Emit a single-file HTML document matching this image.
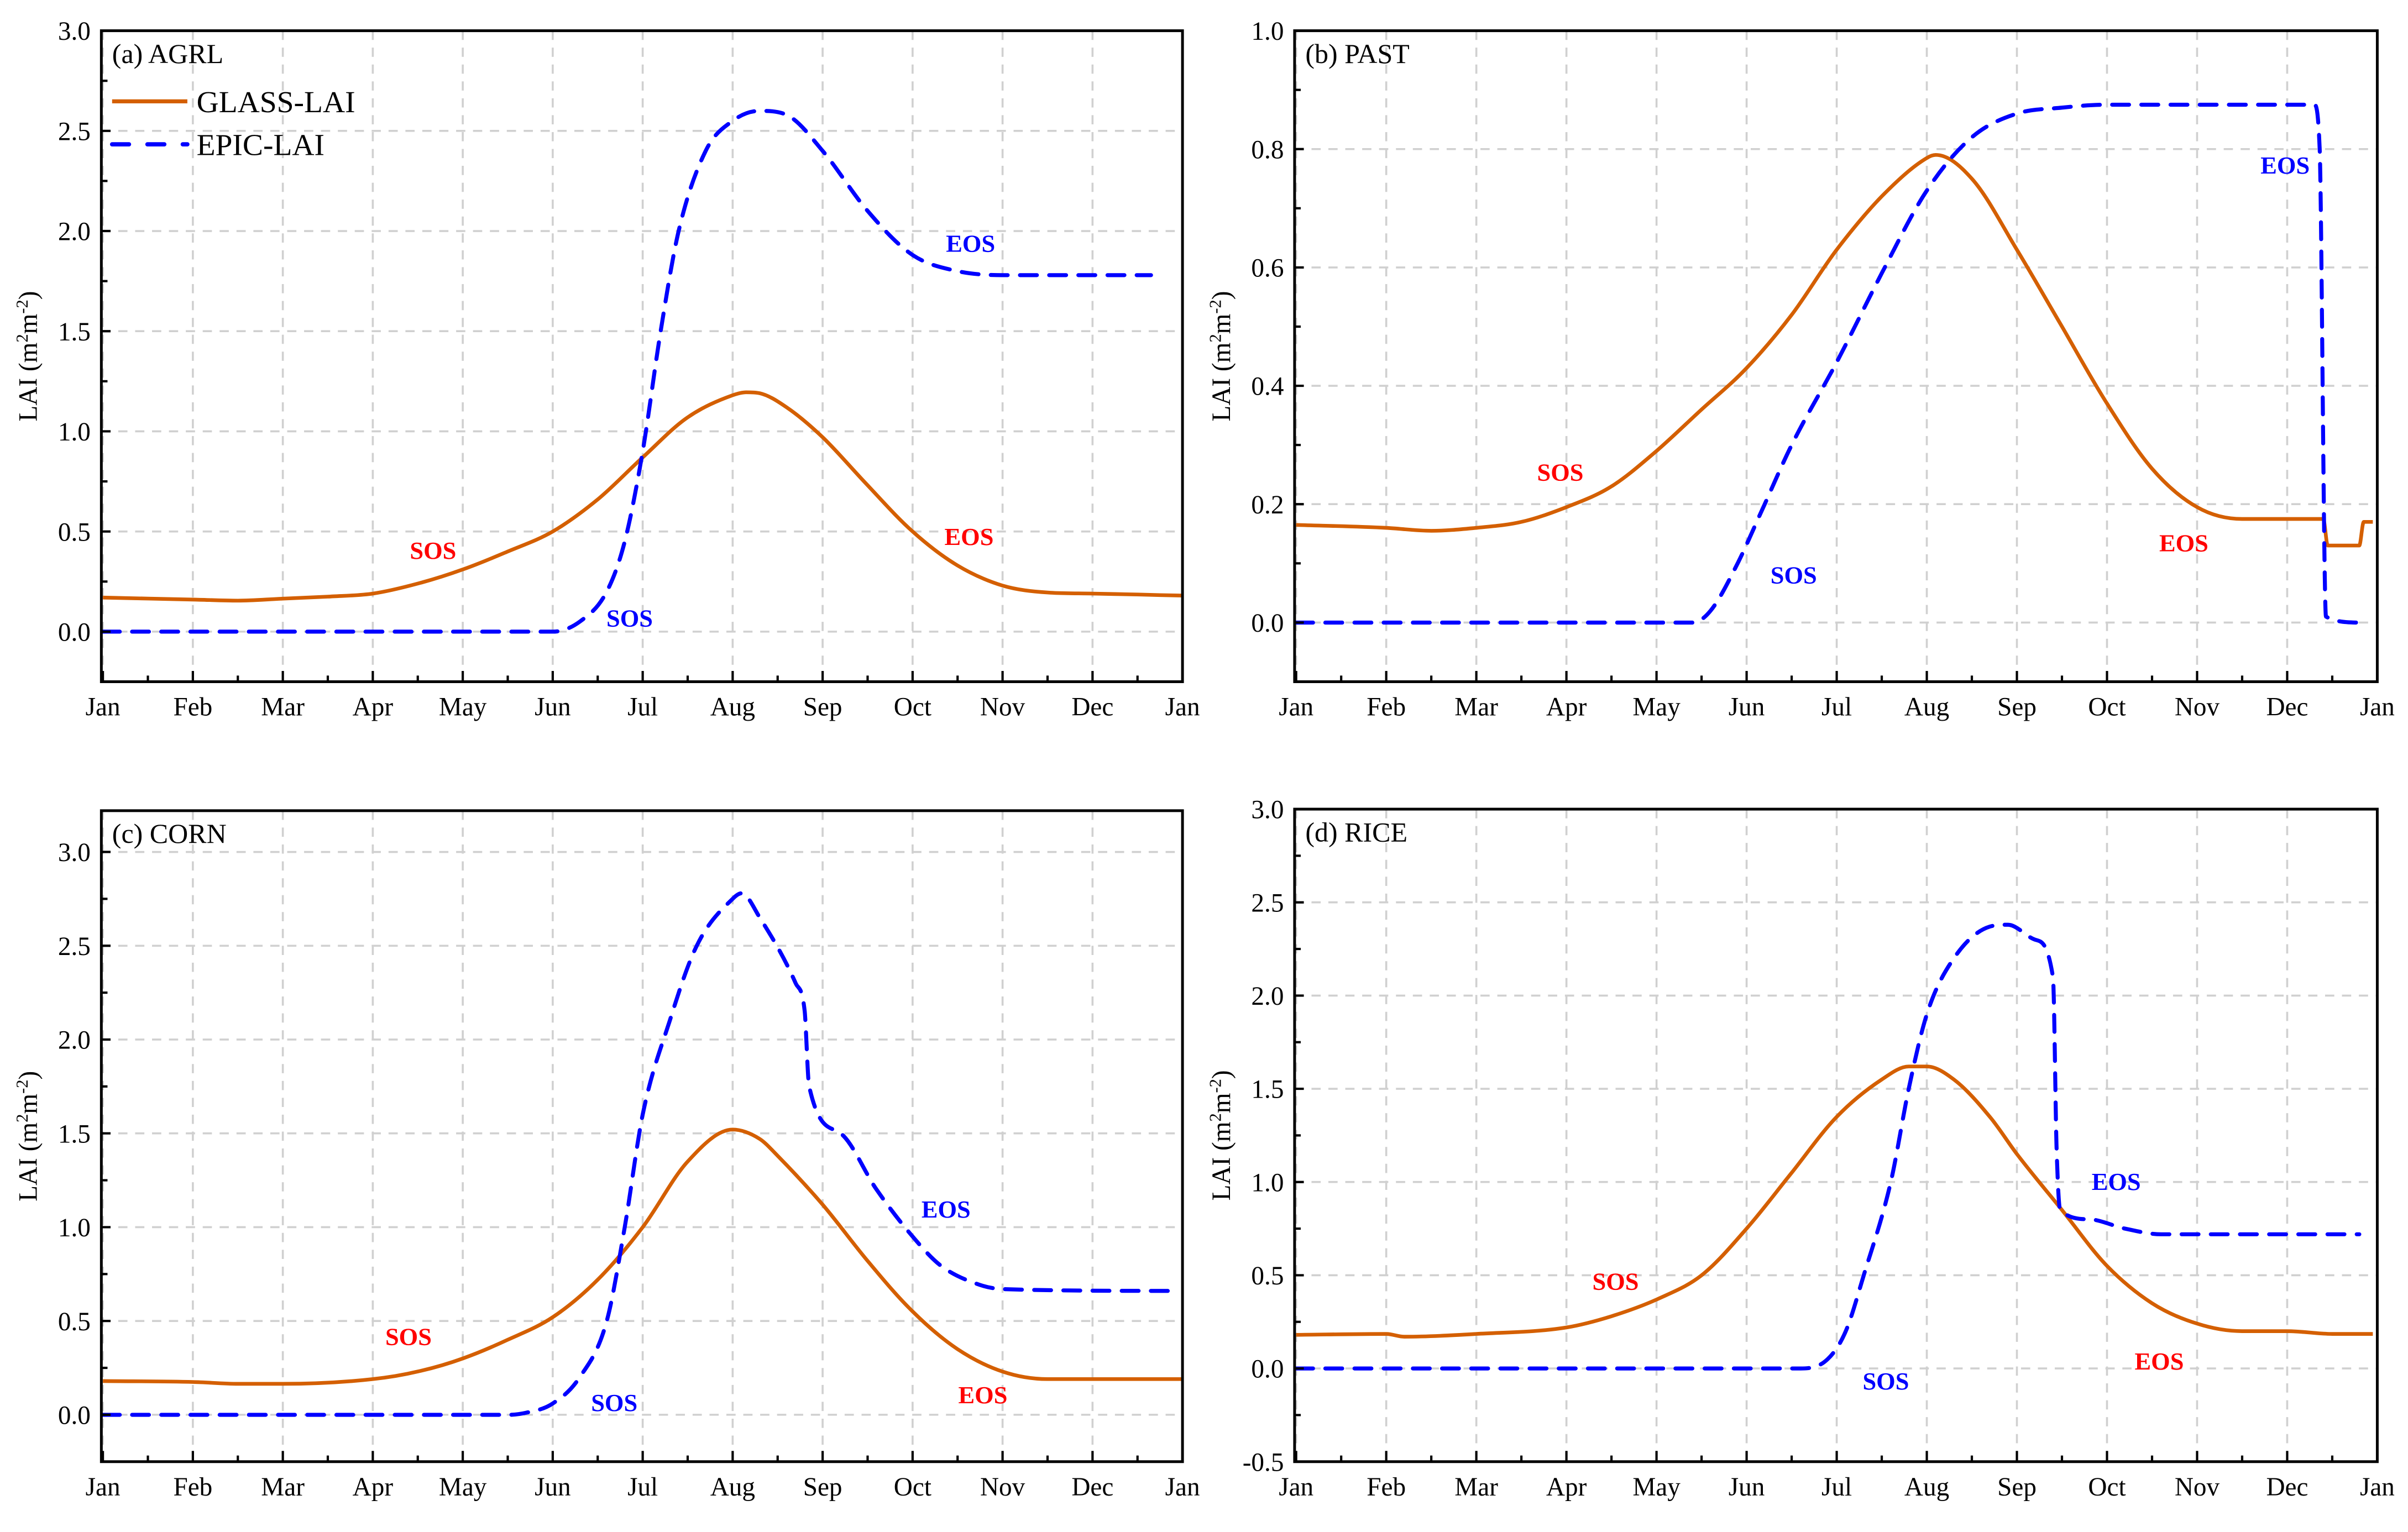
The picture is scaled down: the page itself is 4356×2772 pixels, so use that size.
<!DOCTYPE html>
<html><head><meta charset="utf-8"><style>
html,body{margin:0;padding:0;background:#fff}
svg{display:block}
svg text{font-family:"Liberation Serif","Times New Roman",serif}
</style></head><body>
<svg id="chart" width="4356" height="2772" viewBox="0 0 1568 997.8" font-family="Liberation Serif, serif" xmlns="http://www.w3.org/2000/svg"></svg>
<script>
const months = ["Jan","Feb","Mar","Apr","May","Jun","Jul","Aug","Sep","Oct","Nov","Dec","Jan"];
// Panel a AGRL
const aGlassX = [0,1,1.5,2,2.5,3,3.5,4,4.5,5,5.5,6,6.5,7,7.15,7.3,7.6,8,8.5,9,9.5,10,10.5,11,11.5,12];
const aGlassY = [0.17,0.16,0.155,0.165,0.175,0.19,0.24,0.31,0.4,0.5,0.66,0.87,1.07,1.18,1.195,1.19,1.12,0.97,0.73,0.5,0.33,0.23,0.195,0.19,0.185,0.18];
const aEpicX = [0,5,5.3,5.6,5.8,6,6.2,6.4,6.7,7,7.3,7.6,8,8.5,9,9.5,10,11.65];
const aEpicY = [0,0,0.05,0.2,0.45,0.9,1.5,2.0,2.4,2.55,2.6,2.58,2.4,2.1,1.88,1.8,1.78,1.78];
// Panel b PAST
const bGlassX = [0,1,1.5,2,2.5,3,3.5,4,4.5,5,5.5,6,6.5,7,7.1,7.5,8,8.5,9,9.5,10,10.5,11,11.4,11.45,11.8,11.85,11.95];
const bGlassY = [0.165,0.16,0.155,0.16,0.17,0.195,0.23,0.29,0.36,0.43,0.52,0.63,0.72,0.785,0.79,0.75,0.63,0.5,0.37,0.26,0.195,0.175,0.175,0.175,0.13,0.13,0.17,0.17];
const bEpicX = [0,4.4,4.6,4.9,5.2,5.5,6,6.5,7,7.5,8,8.5,9,11.3,11.36,11.43,11.8];
const bEpicY = [0,0,0.02,0.1,0.2,0.3,0.44,0.59,0.73,0.82,0.86,0.87,0.875,0.875,0.8,0.01,0];
// Panel c CORN
const cGlassX = [0,1,1.5,2,3,3.5,4,4.5,5,5.5,6,6.5,7,7.3,7.5,8,8.5,9,9.5,10,10.5,11,12];
const cGlassY = [0.18,0.175,0.165,0.165,0.19,0.23,0.3,0.4,0.52,0.72,1.0,1.35,1.52,1.47,1.38,1.12,0.82,0.55,0.35,0.23,0.19,0.19,0.19];
const cEpicX = [0,4.5,4.7,5,5.3,5.6,5.8,6,6.3,6.6,7,7.1,7.3,7.7,7.8,7.85,8.2,8.6,9,9.3,9.7,10,11.95];
const cEpicY = [0,0,0.01,0.06,0.2,0.5,1.0,1.6,2.1,2.5,2.75,2.78,2.65,2.3,2.15,1.75,1.5,1.2,0.95,0.8,0.7,0.67,0.66];
// Panel d RICE
const dGlassX = [0,1,1.2,2,3,3.5,4,4.5,5,5.5,6,6.5,6.8,7,7.3,7.7,8,8.5,9,9.5,10,10.5,11,11.5,11.95];
const dGlassY = [0.18,0.185,0.17,0.185,0.22,0.28,0.37,0.5,0.75,1.05,1.35,1.55,1.62,1.62,1.55,1.35,1.15,0.85,0.55,0.35,0.24,0.2,0.2,0.185,0.185];
const dEpicX = [0,5.6,5.9,6.1,6.3,6.6,6.8,7,7.3,7.7,7.9,8.2,8.4,8.44,8.48,8.8,9.2,9.6,11.8];
const dEpicY = [0,0,0.05,0.2,0.5,1.0,1.5,1.9,2.2,2.37,2.38,2.3,2.1,1.2,0.85,0.8,0.75,0.72,0.72];

const NS="http://www.w3.org/2000/svg";
const svg=document.getElementById('chart');
const FF='Liberation Serif, Times New Roman, serif';
function mk(tag,attrs,parent){const e=document.createElementNS(NS,tag);for(const k in attrs)e.setAttribute(k,attrs[k]);if(tag==='text')e.setAttribute('font-family',FF);(parent||svg).appendChild(e);return e;}

function smoothPath(P){
 const n=P.length; if(n<2) return '';
 const d=[],m=new Array(n);
 for(let i=0;i<n-1;i++){const dx=P[i+1][0]-P[i][0];d.push(dx===0?0:(P[i+1][1]-P[i][1])/dx);}
 m[0]=d[0];m[n-1]=d[n-2];
 for(let i=1;i<n-1;i++){m[i]=(d[i-1]*d[i]<=0)?0:(d[i-1]+d[i])/2;}
 for(let i=0;i<n-1;i++){
  if(d[i]===0){m[i]=0;m[i+1]=0;continue;}
  const a=m[i]/d[i],b=m[i+1]/d[i],s=a*a+b*b;
  if(s>9){const t=3/Math.sqrt(s);m[i]=t*a*d[i];m[i+1]=t*b*d[i];}
 }
 let s='M'+P[0][0].toFixed(1)+','+P[0][1].toFixed(1);
 for(let i=0;i<n-1;i++){
  const h=(P[i+1][0]-P[i][0])/3;
  s+='C'+(P[i][0]+h).toFixed(1)+','+(P[i][1]+m[i]*h).toFixed(1)+' '+(P[i+1][0]-h).toFixed(1)+','+(P[i+1][1]-m[i+1]*h).toFixed(1)+' '+P[i+1][0].toFixed(1)+','+P[i+1][1].toFixed(1);
 }
 return s;
}

const panels=[
 {id:'a',title:'(a) AGRL',L:66,R:770,T:20,B:444,ymin:-0.25,ymax:3.0,ticks:[0,0.5,1,1.5,2,2.5,3],dec:1,
  gx:aGlassX,gy:aGlassY,ex:aEpicX,ey:aEpicY,
  lab:[['SOS',282,358,'#f00'],['SOS',410,402,'#00f'],['EOS',632,158,'#00f'],['EOS',631,349,'#f00']]},
 {id:'b',title:'(b) PAST',L:843,R:1548,T:20,B:444,ymin:-0.1,ymax:1.0,ticks:[0,0.2,0.4,0.6,0.8,1.0],dec:1,
  gx:bGlassX,gy:bGlassY,ex:bEpicX,ey:bEpicY,
  lab:[['SOS',1016,307,'#f00'],['SOS',1168,374,'#00f'],['EOS',1488,107,'#00f'],['EOS',1422,353,'#f00']]},
 {id:'c',title:'(c) CORN',L:66,R:770,T:528,B:952,ymin:-0.25,ymax:3.22,ticks:[0,0.5,1,1.5,2,2.5,3],dec:1,
  gx:cGlassX,gy:cGlassY,ex:cEpicX,ey:cEpicY,
  lab:[['SOS',266,870,'#f00'],['SOS',400,913,'#00f'],['EOS',616,787,'#00f'],['EOS',640,908,'#f00']]},
 {id:'d',title:'(d) RICE',L:843,R:1548,T:527,B:952,ymin:-0.5,ymax:3.0,ticks:[-0.5,0,0.5,1,1.5,2,2.5,3],dec:1,
  gx:dGlassX,gy:dGlassY,ex:dEpicX,ey:dEpicY,
  lab:[['SOS',1052,834,'#f00'],['SOS',1228,899,'#00f'],['EOS',1378,769,'#00f'],['EOS',1406,886,'#f00']]}
];

panels.forEach(p=>{
 const g=mk('g',{});
 
 
 const x0=p.L+1, x1=p.R;
 const xs=m=>x0+(x1-x0)*m/12;
 const ys=v=>p.B-(v-p.ymin)/(p.ymax-p.ymin)*(p.B-p.T);
 for(let i=0;i<=12;i++){const l=mk('line',{x1:xs(i),x2:xs(i),y1:p.T,y2:p.B,stroke:'#d0d0d0','stroke-width':1.3,'stroke-dasharray':'6,5'},g);
  }
 p.ticks.forEach(t=>{const l=mk('line',{x1:p.L,x2:p.R,y1:ys(t),y2:ys(t),stroke:'#d0d0d0','stroke-width':1.3,'stroke-dasharray':'6,5'},g);
  });
 const pts=(X,Y)=>X.map((x,i)=>[xs(x),ys(Y[i])]);
 const gl=mk('path',{d:smoothPath(pts(p.gx,p.gy)),fill:'none',stroke:'#d45f00','stroke-width':2.4,'stroke-linejoin':'round'},g);
 
 const ep=mk('path',{d:smoothPath(pts(p.ex,p.ey)),fill:'none',stroke:'#0000ff','stroke-width':2.6,'stroke-dasharray':'11,8','stroke-linecap':'round'},g);
 
 const fr=mk('rect',{x:p.L,y:p.T,width:p.R-p.L,height:p.B-p.T,fill:'none',stroke:'#000','stroke-width':1.8},g);
 
 for(let i=0;i<=12;i++){
  mk('line',{x1:xs(i),x2:xs(i),y1:p.B,y2:p.B-7,stroke:'#000','stroke-width':1.5},g);
  if(i<12) mk('line',{x1:xs(i+0.5),x2:xs(i+0.5),y1:p.B,y2:p.B-4,stroke:'#000','stroke-width':1.5},g);
  const t=mk('text',{x:xs(i),y:p.B+22,'font-size':17,'text-anchor':'middle'},g);t.textContent=months[i];
  
 }
 p.ticks.forEach((v,i)=>{
  mk('line',{x1:p.L,x2:p.L+6,y1:ys(v),y2:ys(v),stroke:'#000','stroke-width':1.5},g);
  if(i<p.ticks.length-1){const mv=(v+p.ticks[i+1])/2;mk('line',{x1:p.L,x2:p.L+4,y1:ys(mv),y2:ys(mv),stroke:'#000','stroke-width':1.5},g);}
  const t=mk('text',{x:p.L-7,y:ys(v)+6,'font-size':17,'text-anchor':'end'},g);t.textContent=v.toFixed(p.dec);
  
 });
 const cy=(p.T+p.B)/2, tx=p.L-42;
 const yt=mk('text',{x:tx,y:cy,'font-size':17,'text-anchor':'middle',transform:`rotate(-90 ${tx} ${cy})`},g);
 yt.innerHTML='LAI (m<tspan dy="-6" font-size="11">2</tspan><tspan dy="6">m</tspan><tspan dy="-6" font-size="11">-2</tspan><tspan dy="6">)</tspan>';
 
 const tt=mk('text',{x:p.L+7,y:p.T+21,'font-size':18},g);tt.textContent=p.title;
 
 p.lab.forEach(a=>{const t=mk('text',{x:a[1],y:a[2]+6,'font-size':16,'font-weight':'bold',fill:a[3],'text-anchor':'middle'},g);t.textContent=a[0];
  });
});
const lg=mk('g',{});


mk('line',{x1:73,x2:122,y1:66,y2:66,stroke:'#d45f00','stroke-width':2.6},lg);
const l1=mk('text',{x:128,y:73,'font-size':20},lg);l1.textContent='GLASS-LAI';

mk('line',{x1:73,x2:122,y1:94,y2:94,stroke:'#0000ff','stroke-width':2.8,'stroke-dasharray':'11,12','stroke-linecap':'round'},lg);
const l2=mk('text',{x:128,y:101,'font-size':20},lg);l2.textContent='EPIC-LAI';

</script>
</body></html>
